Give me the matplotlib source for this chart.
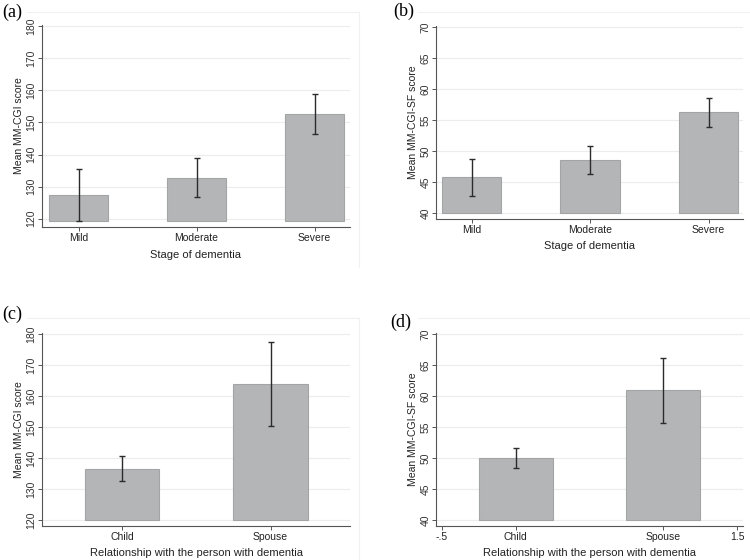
import matplotlib
matplotlib.use("Agg")
import matplotlib.pyplot as plt
from matplotlib.lines import Line2D

# data
stages = ["Mild", "Moderate", "Severe"]
cgiStageMean = [127.3, 132.7, 152.6]
cgiStageLow = [119.2, 126.8, 146.3]
cgiStageHigh = [135.4, 138.8, 159.0]

sfStageMean = [45.8, 48.6, 56.3]
sfStageLow = [42.8, 46.3, 53.9]
sfStageHigh = [48.8, 50.8, 58.6]

relations = ["Child", "Spouse"]
cgiRelMean = [136.7, 164.1]
cgiRelLow = [132.6, 150.4]
cgiRelHigh = [140.8, 177.6]

sfRelMean = [50.0, 61.0]
sfRelLow = [48.5, 55.7]
sfRelHigh = [51.6, 66.2]

cgiTicks = [120, 130, 140, 150, 160, 170, 180]
sfTicks = [40, 45, 50, 55, 60, 65, 70]

plt.rcParams['font.family'] = ['Liberation Sans', 'DejaVu Sans']

BAR = '#b4b5b7'
EDGE = '#a3a4a6'
AXC = '#555555'

fig = plt.figure(figsize=(7.5, 5.6), dpi=100)


def panel(rect, cats, mean, low, high, base, yticks, ylim, xlim, ylabel, xlabel, extraTicks=None):
    ax = fig.add_axes(rect)
    x = list(range(len(cats)))
    heights = [m - base for m in mean]
    for t in yticks:
        ax.axhline(t, color='#ececec', lw=0.8, zorder=0)
    ax.bar(x, heights, bottom=base, width=0.5, color=BAR, edgecolor=EDGE, lw=0.8, zorder=2)
    yerr = [[m - l for m, l in zip(mean, low)], [h - m for m, h in zip(mean, high)]]
    ax.errorbar(x, mean, yerr=yerr, fmt='none', ecolor='#2b2b2b', elinewidth=1.0,
                capsize=2.5, capthick=1.0, zorder=3)
    ax.set_ylim(*ylim)
    ax.set_xlim(*xlim)
    ax.set_yticks(yticks)
    ax.set_yticklabels([str(t) for t in yticks], rotation=90, va='center', fontsize=7.5, color='#333333')
    if extraTicks:
        ticks = [extraTicks[0]] + x + [extraTicks[1]]
        labels = ['-.5'] + cats + ['1.5']
    else:
        ticks = x
        labels = cats
    ax.set_xticks(ticks)
    ax.set_xticklabels(labels, fontsize=7.5, color='#222222')
    ax.tick_params(axis='both', length=3, width=0.7, color=AXC, pad=1)
    for s in ['top', 'right']:
        ax.spines[s].set_visible(False)
    for s in ['left', 'bottom']:
        ax.spines[s].set_color(AXC)
        ax.spines[s].set_linewidth(0.8)
    ax.set_ylabel(ylabel, fontsize=7.5, color='#222222', labelpad=2)
    ax.set_xlabel(xlabel, fontsize=8, color='#222222', labelpad=5)
    ax.patch.set_alpha(0)
    return ax


W, H = 750.0, 560.0


def rect(left, right, top, bottom):
    return [left / W, 1 - bottom / H, (right - left) / W, (bottom - top) / H]


panel(rect(42, 350, 25, 227), stages, cgiStageMean, cgiStageLow, cgiStageHigh, 119.2,
      cgiTicks, (117.4, 180.4), (-0.31, 2.3), 'Mean MM-CGI score', 'Stage of dementia')
panel(rect(436, 743, 26, 219), stages, sfStageMean, sfStageLow, sfStageHigh, 40,
      sfTicks, (39.1, 70.2), (-0.3, 2.29), 'Mean MM-CGI-SF score', 'Stage of dementia')
panel(rect(42, 350, 333, 526), relations, cgiRelMean, cgiRelLow, cgiRelHigh, 120,
      cgiTicks, (118.2, 180.4), (-0.54, 1.535), 'Mean MM-CGI score',
      'Relationship with the person with dementia')
panel(rect(436, 743, 333, 526), relations, sfRelMean, sfRelLow, sfRelHigh, 40,
      sfTicks, (39.1, 70.2), (-0.54, 1.54), 'Mean MM-CGI-SF score',
      'Relationship with the person with dementia', extraTicks=(-0.5, 1.5))

# faint graph region borders
faint = '#f0f0f0'
for (x0, x1, y0, y1) in [(27, 359, 12, 12), (359, 359, 12, 267),
                         (418, 750, 12, 12),
                         (27, 359, 318, 318), (359, 359, 318, 560),
                         (418, 750, 318, 318)]:
    fig.add_artist(Line2D([x0 / W, x1 / W], [1 - y0 / H, 1 - y1 / H], color=faint, lw=0.8))

serif = ['Liberation Serif', 'DejaVu Serif']
fig.text(2 / W, 1 - 12 / H, '(a)', family=serif, fontsize=13, va='center', ha='left')
fig.text(393 / W, 1 - 11 / H, '(b)', family=serif, fontsize=13, va='center', ha='left')
fig.text(2 / W, 1 - 314 / H, '(c)', family=serif, fontsize=13, va='center', ha='left')
fig.text(390 / W, 1 - 322 / H, '(d)', family=serif, fontsize=13, va='center', ha='left')

fig.savefig('out.png', dpi=100, facecolor='white')
